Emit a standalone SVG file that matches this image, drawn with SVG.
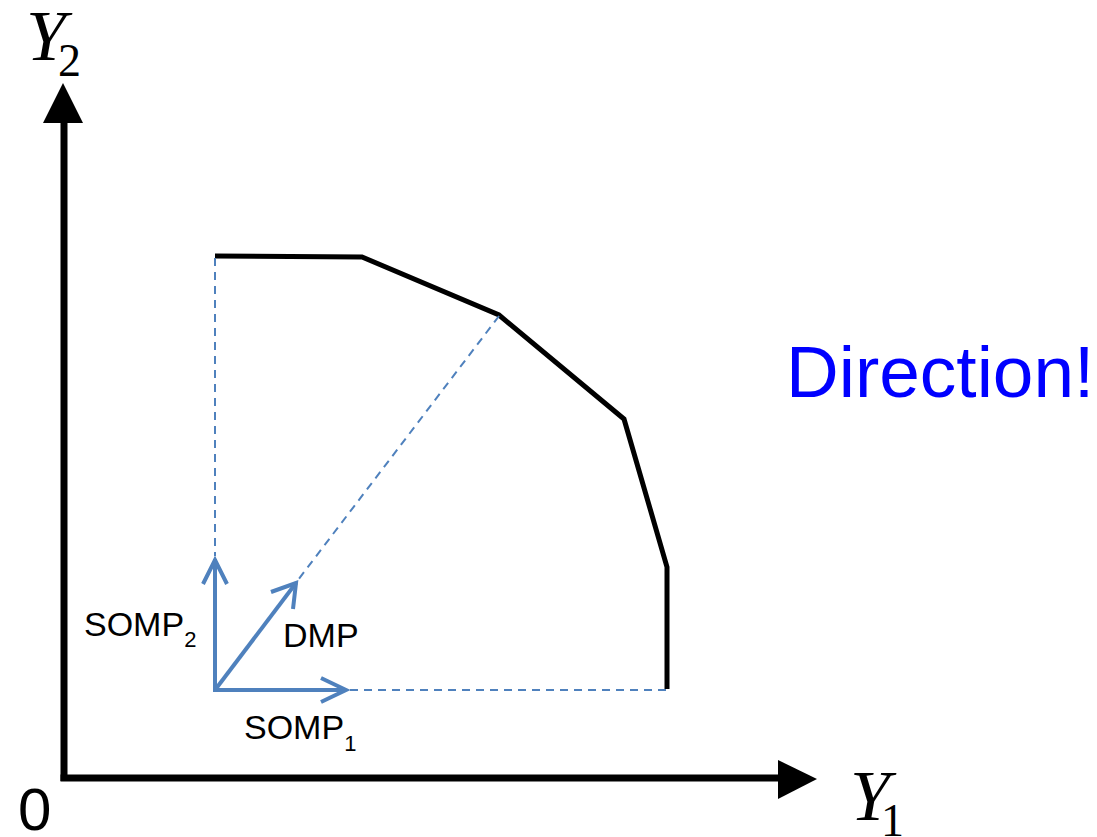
<svg xmlns="http://www.w3.org/2000/svg" width="1097" height="837" viewBox="0 0 1097 837">
<style>
.axis{stroke:#000;stroke-width:7;fill:none}
.front{stroke:#000;stroke-width:5;fill:none;stroke-linejoin:miter}
.dash{stroke:#4F81BD;stroke-width:2;stroke-dasharray:8 6;fill:none}
.vec{stroke:#4F81BD;stroke-width:4;fill:none;stroke-linecap:butt}
.lbl{font-family:"Liberation Sans",Arial,sans-serif;font-size:34px;fill:#000}
.math{font-family:"Liberation Serif","Times New Roman",serif;fill:#000}
</style>
<rect width="1097" height="837" fill="#fff"/>
<g id="axes">
<line class="axis" x1="64" y1="781" x2="64" y2="118"/>
<polygon points="63,83 43,123 83,123" fill="#000"/>
<line class="axis" x1="60.5" y1="778" x2="782" y2="778"/>
<polygon points="817,779 778,760 778,799" fill="#000"/>
</g>
<g id="frontier">
<polyline class="front" points="215,256 362,257 499,315 624,419 667,567 667,689"/>
</g>
<g id="connectors">
<line class="dash" x1="215" y1="258" x2="215" y2="556"/>
<line class="dash" x1="499" y1="316" x2="298" y2="580"/>
<line class="dash" x1="350" y1="690" x2="667" y2="690"/>
<line class="vec" x1="215" y1="692" x2="215" y2="559"/>
<polyline class="vec" points="203,584 215,560 227,584"/>
<line class="vec" x1="215" y1="690" x2="346" y2="690"/>
<polyline class="vec" points="321,678 346,690 321,702"/>
<line class="vec" x1="215" y1="690" x2="296" y2="583"/>
<polyline class="vec" points="271,592 296,583 293,609"/>
</g>
<g id="labels">
<text x="18" y="830" font-family="Liberation Sans,Arial,sans-serif" font-size="60" fill="#000">0</text>
<text class="math" x="26" y="60" font-size="72" font-style="italic">Y</text>
<text class="math" x="58" y="76" font-size="46">2</text>
<text class="math" x="850" y="820" font-size="72" font-style="italic">Y</text>
<text class="math" x="881" y="836" font-size="46">1</text>
<text class="lbl" x="84" y="636">SOMP<tspan font-size="22" dy="11">2</tspan></text>
<text class="lbl" x="283" y="647" font-size="35">DMP</text>
<text class="lbl" x="244" y="739">SOMP<tspan font-size="22" dy="12">1</tspan></text>
<text x="786" y="397" font-family="Liberation Sans,Arial,sans-serif" font-size="73" fill="#0000FF">Direction!</text>
</g>
</svg>
